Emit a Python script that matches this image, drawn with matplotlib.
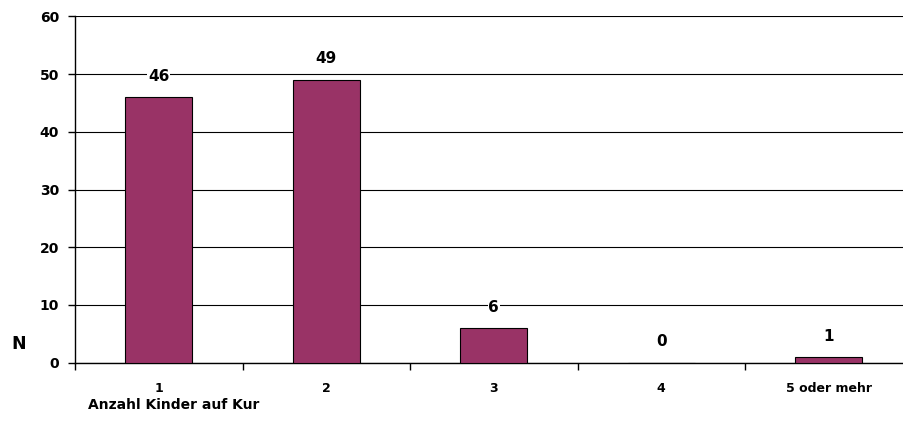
import matplotlib.pyplot as plt
import numpy as np

plt.rcParams['font.family'] = ['DejaVu Sans']
plt.rcParams['font.weight'] = 'bold'

# Daten
kategorien = ["1", "2", "3", "4", "5 oder mehr"]
anzahl = [46, 49, 6, 0, 1]
y_ticks = [0, 10, 20, 30, 40, 50, 60]

fig = plt.figure(figsize=(9.04, 4.34), dpi=100)
ax = fig.add_axes([75/904, 71.3/434, 837.5/904, 346.4/434])

x = np.arange(len(kategorien))
ax.bar(x, anzahl, width=0.4, color="#993366", edgecolor="black", linewidth=0.8, zorder=3)

# Werte ueber den Balken
for xi, v in zip(x, anzahl):
    ax.annotate(str(v), (xi, v), xytext=(0, 15), textcoords="offset points",
                ha="center", va="center", fontsize=11, fontweight="bold", zorder=4,
                bbox=dict(facecolor="white", edgecolor="none", pad=0.5))

ax.set_xlim(-0.5, len(kategorien) - 0.5)
ax.set_ylim(0, 60)
ax.set_yticks(y_ticks)
ax.set_yticklabels([str(t) for t in y_ticks], fontsize=10, fontweight="bold")
ax.yaxis.grid(True, color="black", linewidth=0.8, zorder=0)
ax.axhline(60, color="#808080", linewidth=1.2, zorder=1)

# Kategorien-Labels zwischen den Ticks
ax.set_xticks(np.arange(len(kategorien) + 1) - 0.5)
ax.set_xticklabels([])
ax.set_xticks(x, minor=True)
ax.set_xticklabels(kategorien, minor=True, fontsize=9, fontweight="bold")
ax.tick_params(axis="x", which="minor", length=0, pad=14)
ax.tick_params(axis="x", which="major", length=5, width=1, direction="out")
ax.tick_params(axis="y", length=5, width=1, pad=6.5)

for s in ["top", "right"]:
    ax.spines[s].set_visible(False)
ax.spines["left"].set_color("black")
ax.spines["bottom"].set_color("black")
ax.spines["left"].set_linewidth(1)
ax.spines["bottom"].set_linewidth(1)

fig.text(19/904, 1 - 344/434, "N", ha="center", va="center", fontsize=12.5, fontweight="bold")
fig.text(88/904, 1 - 405/434, "Anzahl Kinder auf Kur", ha="left", va="center", fontsize=10, fontweight="bold")

fig.savefig("out.png", dpi=100)
